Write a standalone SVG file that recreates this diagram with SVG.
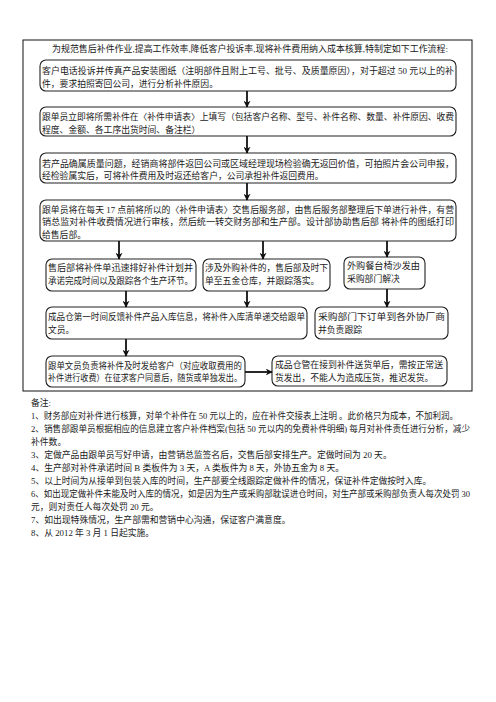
<svg xmlns="http://www.w3.org/2000/svg" width="496" height="702" viewBox="0 0 496 702">
<style>
.t{font-family:"Liberation Serif","Noto Sans CJK SC",serif;font-size:8.8px;fill:#1a1a1a}
.b{fill:#fff;stroke:#222;stroke-width:1.1}
.c{stroke:#111;stroke-width:1.8;fill:none}
</style>
<defs>
<marker id="ah" viewBox="0 0 10 10" refX="9" refY="5" markerWidth="7" markerHeight="7" markerUnits="userSpaceOnUse" orient="auto">
<path d="M0,0 L10,5 L0,10 L3,5 z" fill="#111"/>
</marker>
</defs>
<rect width="496" height="702" fill="#fff"/>
<rect id="frame" x="23" y="40" width="449" height="351" fill="none" stroke="#111" stroke-width="1"/>
<text class="t" x="52" y="52" textLength="396" lengthAdjust="spacingAndGlyphs">为规范售后补件作业,提高工作效率,降低客户投诉率,现将补件费用纳入成本核算,特制定如下工作流程:</text>
<g id="n1"><rect class="b" x="40" y="60" width="416" height="31" rx="6"/>
<text class="t" x="42" y="74" textLength="412" lengthAdjust="spacingAndGlyphs">客户电话投诉并传真产品安装图纸（注明部件且附上工号、批号、及质量原因），对于超过 50 元以上的补</text>
<text class="t" x="42" y="86.5">件，要求拍照寄回公司，进行分析补件原因。</text></g>
<g id="n2"><rect class="b" x="40" y="107" width="416" height="29" rx="6"/>
<text class="t" x="42" y="120" textLength="412" lengthAdjust="spacingAndGlyphs">跟单员立即将所需补件在〈补件申请表〉上填写（包括客户名称、型号、补件名称、数量、补件原因、收费</text>
<text class="t" x="42" y="132.5">程度、金额、各工序出货时间、备注栏）</text></g>
<g id="n3"><rect class="b" x="40" y="153" width="416" height="30" rx="6"/>
<text class="t" x="42" y="167" textLength="412" lengthAdjust="spacingAndGlyphs">若产品确属质量问题，经销商将部件返回公司或区域经理现场检验确无返回价值，可拍照片会公司申报，</text>
<text class="t" x="42" y="179">经检验属实后，可将补件费用及时返还给客户，公司承担补件返回费用。</text></g>
<g id="n4"><rect class="b" x="40" y="200" width="416" height="41" rx="6"/>
<text class="t" x="42" y="212.5" textLength="412" lengthAdjust="spacingAndGlyphs">跟单员将在每天 17 点前将所以的〈补件申请表〉交售后服务部，由售后服务部整理后下单进行补件，有营</text>
<text class="t" x="42" y="225" textLength="412" lengthAdjust="spacingAndGlyphs">销总监对补件收费情况进行审核，然后统一转交财务部和生产部。设计部协助售后部 将补件的图纸打印</text>
<text class="t" x="42" y="237.5">给售后部。</text></g>
<g id="n5a"><rect class="b" x="46" y="259" width="150" height="32" rx="6"/>
<text class="t" x="48" y="271" textLength="145" lengthAdjust="spacingAndGlyphs">售后部将补件单迅速排好补件计划并</text>
<text class="t" x="48" y="284" textLength="145" lengthAdjust="spacingAndGlyphs">承诺完成时间以及跟踪各个生产环节。</text></g>
<g id="n5b"><rect class="b" x="203" y="259" width="127" height="32" rx="6"/>
<text class="t" x="205" y="271" textLength="123" lengthAdjust="spacingAndGlyphs">涉及外购补件的，售后部及时下</text>
<text class="t" x="205" y="284">单至五金仓库，并跟踪落实。</text></g>
<g id="n5c"><rect class="b" x="344" y="257" width="81" height="32" rx="6"/>
<text class="t" x="347" y="269" textLength="73" lengthAdjust="spacingAndGlyphs">外购餐台椅沙发由</text>
<text class="t" x="347" y="282">采购部门解决</text></g>
<g id="n6"><rect class="b" x="46" y="307" width="261" height="32" rx="6"/>
<text class="t" x="48" y="320" textLength="257" lengthAdjust="spacingAndGlyphs">成品仓第一时间反馈补件产品入库信息，将补件入库清单递交给跟单</text>
<text class="t" x="48" y="333">文员。</text></g>
<g id="n7"><rect class="b" x="315" y="307" width="133" height="32" rx="6"/>
<text class="t" x="318" y="320" textLength="127" lengthAdjust="spacingAndGlyphs">采购部门下订单到各外协厂商</text>
<text class="t" x="318" y="333">并负责跟踪</text></g>
<g id="n8"><rect class="b" x="46" y="356" width="199" height="31" rx="6"/>
<text class="t" x="48" y="369" textLength="194" lengthAdjust="spacingAndGlyphs">跟单文员负责将补件及时发给客户（对应收取费用的</text>
<text class="t" x="48" y="381" textLength="194" lengthAdjust="spacingAndGlyphs">补件进行收费）在征求客户同意后，随货或单独发出。</text></g>
<g id="n9"><rect class="b" x="272" y="356" width="175" height="30" rx="6"/>
<text class="t" x="275" y="368" textLength="168" lengthAdjust="spacingAndGlyphs">成品仓管在接到补件送货单后，需按正常送</text>
<text class="t" x="275" y="381">货发出，不能人为造成压货，推迟发货。</text></g>
<g id="connectors">
<line class="c" x1="247" y1="91" x2="247" y2="107" marker-end="url(#ah)"/>
<line class="c" x1="247" y1="136" x2="247" y2="153" marker-end="url(#ah)"/>
<line class="c" x1="247" y1="183" x2="247" y2="200" marker-end="url(#ah)"/>
<line class="c" x1="119" y1="241" x2="119" y2="259" marker-end="url(#ah)"/>
<line class="c" x1="263" y1="241" x2="263" y2="259" marker-end="url(#ah)"/>
<line class="c" x1="387" y1="241" x2="387" y2="257" marker-end="url(#ah)"/>
<line class="c" x1="126" y1="291" x2="126" y2="307" marker-end="url(#ah)"/>
<line class="c" x1="247" y1="291" x2="247" y2="307" marker-end="url(#ah)"/>
<line class="c" x1="387" y1="289" x2="387" y2="307" marker-end="url(#ah)"/>
<line class="c" x1="126" y1="339" x2="126" y2="356" marker-end="url(#ah)"/>
<line class="c" x1="245" y1="372" x2="272" y2="372" marker-end="url(#ah)"/>
</g>
<g id="notes">
<text class="t" x="31" y="406">备注:</text>
<text class="t" x="31" y="419" textLength="427" lengthAdjust="spacingAndGlyphs">1、财务部应对补件进行核算，对单个补件在 50 元以上的，应在补件交接表上注明 。此价格只为成本，不加利润。</text>
<text class="t" x="31" y="432" textLength="439" lengthAdjust="spacingAndGlyphs">2、销售部跟单员根据相应的信息建立客户补件档案(包括 50 元以内的免费补件明细) 每月对补件责任进行分析，减少</text>
<text class="t" x="31" y="445">补件数。</text>
<text class="t" x="31" y="458">3、定做产品由跟单员写好申请，由营销总监签名后，交售后部安排生产。定做时间为 20 天。</text>
<text class="t" x="31" y="471">4、生产部对补件承诺时间 B 类板件为 3 天，A 类板件为 8 天，外协五金为 8 天。</text>
<text class="t" x="31" y="484">5、以上时间为从接单到包装入库的时间，生产部要全线跟踪定做补件的情况，保证补件定做按时入库。</text>
<text class="t" x="31" y="497" textLength="439" lengthAdjust="spacingAndGlyphs">6、如出现定做补件未能及时入库的情况，如是因为生产或采购部耽误进仓时间，对生产部或采购部负责人每次处罚 30</text>
<text class="t" x="31" y="510">元，则对责任人每次处罚 20 元。</text>
<text class="t" x="31" y="523">7、如出现特殊情况，生产部需和营销中心沟通，保证客户满意度。</text>
<text class="t" x="31" y="536">8、从 2012 年 3 月 1 日起实施。</text>
</g>
</svg>
